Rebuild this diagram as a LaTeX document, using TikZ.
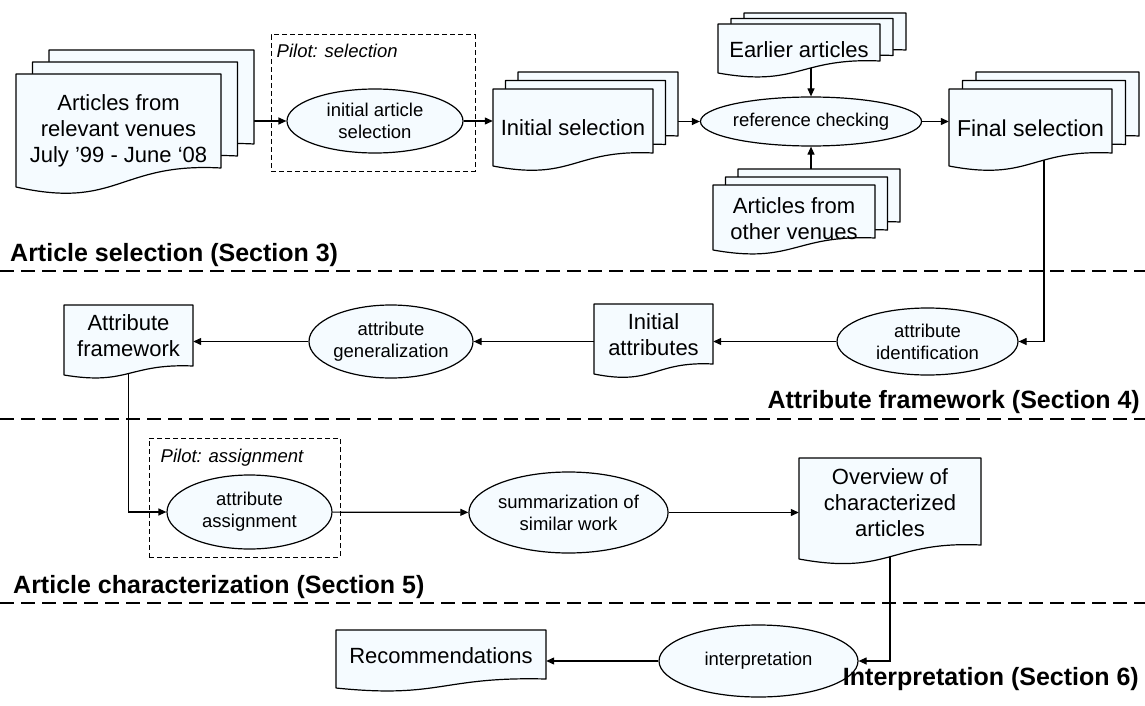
\documentclass[tikz,border=0pt]{standalone}
\usepackage{fontspec}
\setmainfont{Liberation Sans}
\usepackage{tikz}
\usetikzlibrary{arrows.meta,%
                shapes.geometric,backgrounds}

\definecolor{pagefill}{RGB}{245,251,255}

% one page with a wavy lower edge: left, top, right, lower right, wave
\newcommand{\Page}[5]{%
  \filldraw[page] (#1,#2) -- (#3,#2) -- (#3,#4)
    .. controls ({(#1+#3)/2},{#4-0.3*#5}) and ({(#1+#3)/2},{#4+2.2*#5}) .. (#1,{#4+#5}) -- cycle;}
% three pages, each one shifted by dx, dy
\newcommand{\PageStack}[7]{%
  \Page{#1+2*#6}{#2-2*#7}{#3+2*#6}{#4-2*#7}{#5}
  \Page{#1+#6}{#2-#7}{#3+#6}{#4-#7}{#5}
  \Page{#1}{#2}{#3}{#4}{#5}}

\begin{document}
\begin{tikzpicture}[x=1pt,y=-1pt,
  page/.style={fill=pagefill,draw=black,line width=1.2pt,line join=round},
  doc/.style={inner sep=0pt,align=center,font=\fontsize{22}{26}\selectfont},
  proc/.style={ellipse,draw,fill=pagefill,line width=1.2pt,inner sep=0pt,align=center,
    font=\fontsize{18.5}{22}\selectfont},
  pilot/.style={draw,dash pattern=on 5pt off 3pt,line width=1pt,inner sep=0pt},
  pilotlabel/.style={inner sep=0pt,anchor=north west,font=\fontsize{18.5}{22}\selectfont\itshape},
  section/.style={inner sep=0pt,font=\fontsize{25}{30}\selectfont\bfseries},
  divider/.style={line width=2pt,dash pattern=on 14pt off 7pt},
  arr/.style={line width=1.2pt,-{Triangle[length=8pt,width=7pt]}}]
\useasboundingbox (0,0) rectangle (1145,706);

\draw[divider] (0,271) -- (1145,271);
\draw[divider] (0,419) -- (1145,419);
\draw[divider] (0,603) -- (1145,603);

% article selection
\PageStack{16}{74}{221}{168}{19}{16.5}{12}
\node[doc,minimum width=205] (art) at (118.5,131) {Articles from\\relevant venues\\July ’99 - June ‘08};
\node[pilot,minimum width=204,minimum height=136] (pilsel) at (373,103) {};
\node[pilotlabel] (pilsellab) at ([xshift=6pt,yshift=-9pt]pilsel.north west) {Pilot: selection};
\node[proc,minimum width=176,minimum height=64] (ias) at (375,121) {initial article\\selection};
\PageStack{493}{89}{653}{153}{13}{12.5}{8.5}
\node[doc,minimum width=160] (ini) at (573,128) {Initial selection};
\PageStack{718}{24}{880}{61}{12}{13}{5.5}
\node[doc,minimum width=162] (earl) at (799,50) {Earlier articles};
\node[proc,minimum width=186,minimum height=49] (refc) at (811,121.5) {reference checking};
\PageStack{713}{185}{875}{238}{12}{12.5}{8}
\node[doc,minimum width=162] (oth) at (794,219) {Articles from\\other venues};
\PageStack{949}{89}{1112}{153}{13}{13.5}{8.5}
\node[doc,minimum width=163,font=\fontsize{23}{26}\selectfont] (fin) at (1030.5,128) {Final selection};
\node[section,anchor=base west] (sec3) at (10,261) {Article selection (Section 3)};

% attribute framework
\Page{64}{305}{193}{366}{9}
\node[doc,minimum width=129] (afw) at (128.5,335.5) {Attribute\\framework};
\node[proc,minimum width=164,minimum height=73] (agen) at (391,341.5) {attribute\\generalization};
\Page{594}{304}{713}{364}{10}
\node[doc,minimum width=119] (iat) at (653.5,335) {Initial\\attributes};
\node[proc,minimum width=181,minimum height=67] (aid) at (927.5,341.5) {attribute\\identification};
\node[section,anchor=base east] (sec4) at (1140,408) {Attribute framework (Section 4)};

% article characterization
\node[pilot,minimum width=191,minimum height=119] (pilass) at (244.5,497.5) {};
\node[pilotlabel] (pilasslab) at ([xshift=12pt,yshift=-11pt]pilass.north west) {Pilot: assignment};
\node[proc,minimum width=165,minimum height=74] (aas) at (249.5,512) {attribute\\assignment};
\node[proc,minimum width=181,minimum height=81] (sum) at (568.5,512.5) {summarization of\\similar work};
\Page{799}{458}{981}{545}{14}
\node[doc,minimum width=182] (ovw) at (890,503) {Overview of\\characterized\\articles};
\node[section,anchor=base west] (sec5) at (13,593) {Article characterization (Section 5)};

% interpretation
\Page{336}{630}{546}{679}{9}
\node[doc,minimum width=210] (rec) at (441,656) {Recommendations};
\node[proc,minimum width=199,minimum height=72] (interp) at (758.5,661) {interpretation};
\node[section,anchor=base east] (sec6) at (1139,685) {Interpretation (Section 6)};

\begin{pgfonlayer}{background}
\draw[arr] (art.center |- ias) -- (ias);
\draw[arr] (ias) -- (ias -| ini.west);
\draw[arr] (ini.center |- refc) -- (refc);
\draw[arr] (refc |- earl.center) -- (refc);
\draw[arr] (refc |- oth.center) -- (refc);
\draw[arr] (refc) -- (refc -| fin.west);
\draw[arr] ([xshift=13.5pt]fin.center) |- (aid);
\draw[arr] (aid) -- (aid -| iat.east);
\draw[arr] (iat.center |- agen) -- (agen);
\draw[arr] (agen) -- (agen -| afw.east);
\draw[arr] (afw.center) |- (aas);
\draw[arr] (aas) -- (sum);
\draw[arr] (sum) -- (sum -| ovw.west);
\draw[arr] (ovw.center) |- (interp);
\draw[arr] (interp) -- (interp -| rec.east);
\end{pgfonlayer}
\end{tikzpicture}
\end{document}
